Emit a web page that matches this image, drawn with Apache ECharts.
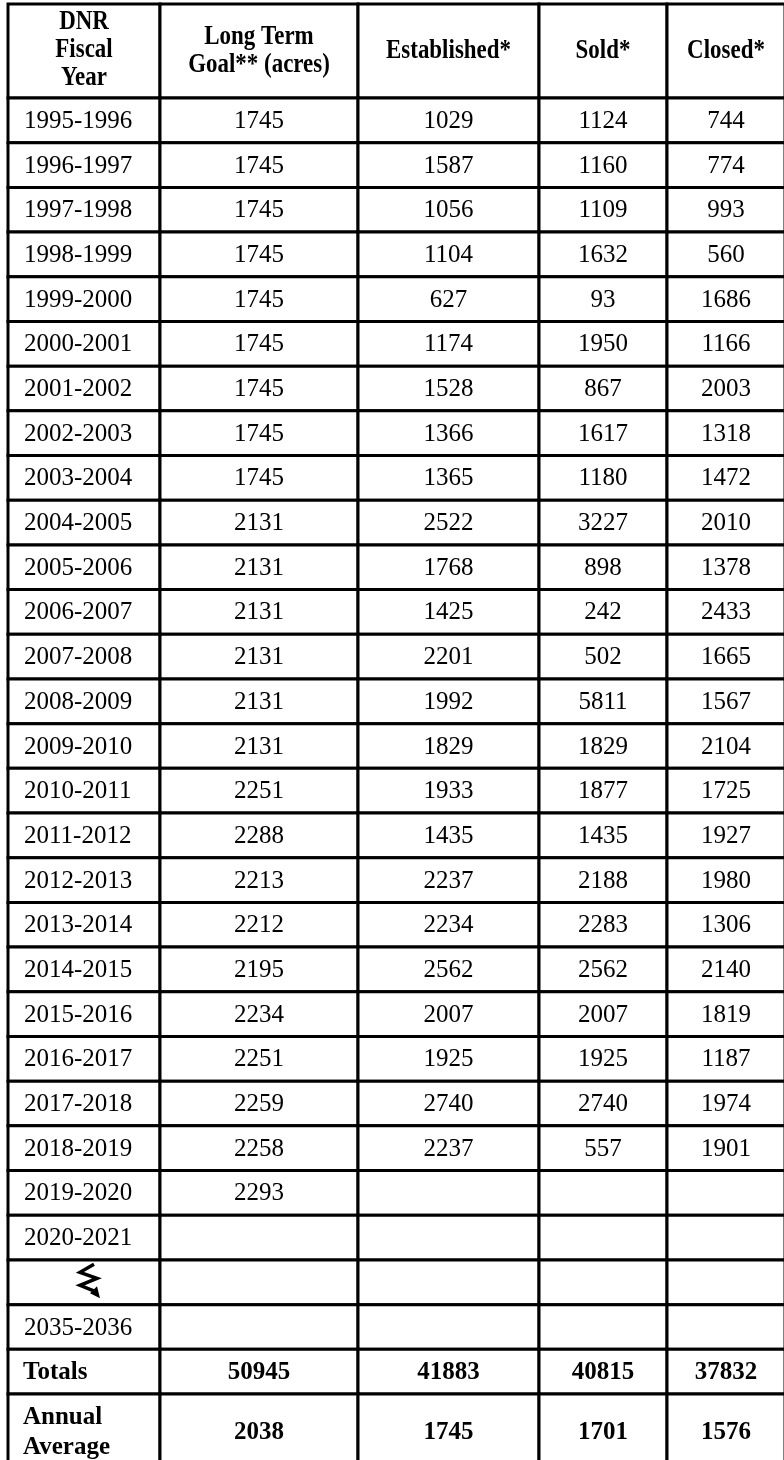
<!DOCTYPE html>
<html><head><meta charset="utf-8">
<script src="https://cdn.jsdelivr.net/npm/echarts@6/dist/echarts.min.js"></script>
<style>html,body{margin:0;padding:0;background:#fff}#c{width:784px;height:1460px}</style>
</head><body><div id="c"></div>
<script>
// ---- data ----
var headers = ['DNR\nFiscal\nYear', 'Long Term\nGoal** (acres)', 'Established*', 'Sold*', 'Closed*'];
var years = ['1995-1996','1996-1997','1997-1998','1998-1999','1999-2000','2000-2001','2001-2002','2002-2003','2003-2004','2004-2005','2005-2006','2006-2007','2007-2008','2008-2009','2009-2010','2010-2011','2011-2012','2012-2013','2013-2014','2014-2015','2015-2016','2016-2017','2017-2018','2018-2019','2019-2020','2020-2021','BREAK','2035-2036'];
var goalAcres = [1745,1745,1745,1745,1745,1745,1745,1745,1745,2131,2131,2131,2131,2131,2131,2251,2288,2213,2212,2195,2234,2251,2259,2258,2293];
var establishedAcres = [1029,1587,1056,1104,627,1174,1528,1366,1365,2522,1768,1425,2201,1992,1829,1933,1435,2237,2234,2562,2007,1925,2740,2237];
var soldAcres = [1124,1160,1109,1632,93,1950,867,1617,1180,3227,898,242,502,5811,1829,1877,1435,2188,2283,2562,2007,1925,2740,557];
var closedAcres = [744,774,993,560,1686,1166,2003,1318,1472,2010,1378,2433,1665,1567,2104,1725,1927,1980,1306,2140,1819,1187,1974,1901];
var totalsRow = [50945,41883,40815,37832];
var averagesRow = [2038,1745,1701,1576];

// ---- layout (pixels in axis units) ----
var colEdges = [8,160,358,539,667,785];
var rowEdges = [4,98];
for (var i = 1; i <= 29; i++) rowEdges.push(98 + i * 44.69);
rowEdges.push(1470);

// ---- build cells ----
var cells = [];
headers.forEach(function (h, c) { cells.push([c, 0, h, 'head']); });
var cols = [goalAcres, establishedAcres, soldAcres, closedAcres];
years.forEach(function (y, r) {
  cells.push([0, r + 1, y === 'BREAK' ? '' : y, y === 'BREAK' ? 'break' : 'year']);
  cols.forEach(function (arr, c) {
    var v = arr[r];
    cells.push([c + 1, r + 1, v == null ? '' : String(v), 'num']);
  });
});
var tr = years.length + 1;
cells.push([0, tr, 'Totals', 'boldLeft']);
totalsRow.forEach(function (v, c) { cells.push([c + 1, tr, String(v), 'bold']); });
cells.push([0, tr + 1, 'Annual\nAverage', 'boldLeft']);
averagesRow.forEach(function (v, c) { cells.push([c + 1, tr + 1, String(v), 'bold']); });

var chart = echarts.init(document.getElementById('c'), null, {renderer: 'canvas'});
chart.setOption({
  animation: false,
  grid: {left: 0, right: 0, top: 0, bottom: 0},
  xAxis: {type: 'value', min: 0, max: 784, show: false},
  yAxis: {type: 'value', min: 0, max: 1460, inverse: true, show: false},
  series: [{
    type: 'custom',
    silent: true,
    clip: false,
    data: cells,
    renderItem: function (params, api) {
      var c = api.value(0), r = api.value(1);
      var d = cells[params.dataIndex];
      var p0 = api.coord([colEdges[c], rowEdges[r]]);
      var p1 = api.coord([colEdges[c + 1], rowEdges[r + 1]]);
      var x = p0[0], y = p0[1], w = p1[0] - p0[0], h = p1[1] - p0[1];
      var kind = d[3];
      var children = [{
        type: 'rect', shape: {x: x, y: y, width: w, height: h},
        style: {fill: '#fff', stroke: '#000', lineWidth: 3}
      }];
      var font = '25px "Liberation Serif"';
      var align = 'center', tx = x + w / 2, ty = y + h / 2 + 1;
      var lh = 27, sx = 1;
      if (kind === 'head') {
        font = 'bold 27px "Liberation Serif"'; sx = 0.85;
        lh = c === 0 ? 28 : 28;
        ty = y + h / 2 + (c === 0 ? -1 : 0);
      }
      if (kind === 'bold') font = 'bold 25px "Liberation Serif"';
      if (kind === 'boldLeft') { font = 'bold 25px "Liberation Serif"'; align = 'left'; tx = x + 15; lh = 30; }
      if (kind === 'year') { align = 'left'; tx = x + 16; }
      if (kind === 'break') {
        var cx = x + w / 2 + 5, cy = y + h / 2 - 2;
        children.push({
          type: 'polyline',
          shape: {points: [[cx + 5, cy - 16], [cx - 9, cy - 8], [cx + 8, cy - 2], [cx - 9, cy + 5], [cx + 6, cy + 11]]},
          style: {stroke: '#000', lineWidth: 3.5, fill: null, lineJoin: 'miter'}
        });
        children.push({
          type: 'polygon',
          shape: {points: [[cx + 11, cy + 18], [cx + 1, cy + 13], [cx + 8, cy + 6]]},
          style: {fill: '#000'}
        });
      } else if (d[2] !== '') {
        children.push({
          type: 'text',
          x: tx, y: ty, scaleX: sx,
          style: {x: 0, y: 0, text: d[2], font: font, fill: '#000',
                  align: align, verticalAlign: 'middle', lineHeight: lh, textAlign: align}
        });
      }
      return {type: 'group', children: children};
    }
  }]
});
</script></body></html>
